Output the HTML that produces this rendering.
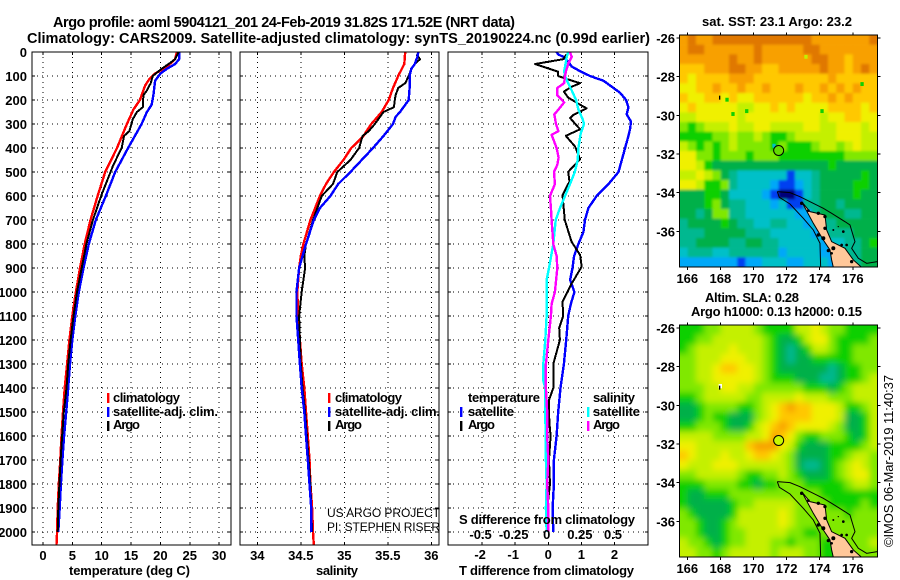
<!DOCTYPE html>
<html>
<head>
<meta charset="utf-8">
<title>Argo profile</title>
<style>
html,body{margin:0;padding:0;background:#fff;}
svg{display:block;}
text{font-family:"Liberation Sans",sans-serif;font-weight:bold;font-size:13px;fill:#000;}
.plain{font-weight:normal;}
.big{font-size:14.5px;}
.credit{font-size:12px;font-weight:normal;}
</style>
</head>
<body>
<svg id="chart" xmlns="http://www.w3.org/2000/svg" width="900" height="580" viewBox="0 0 900 580">
<defs>
<clipPath id="clip-temp"><rect x="32" y="52" width="199" height="493"/></clipPath>
<clipPath id="clip-sal"><rect x="240" y="52" width="199" height="493"/></clipPath>
<clipPath id="clip-diff"><rect x="448" y="52" width="200" height="493"/></clipPath>
<clipPath id="clip-map-sst"><rect x="679.5" y="35" width="198" height="232"/></clipPath>
<clipPath id="clip-map-sla"><rect x="679.5" y="325" width="198" height="232"/></clipPath>
<filter id="soft" x="-5%" y="-5%" width="110%" height="110%"><feGaussianBlur stdDeviation="3.2"/></filter>
<filter id="slight" x="-5%" y="-5%" width="110%" height="110%"><feGaussianBlur stdDeviation="1.3"/></filter>
</defs>
<rect x="0" y="0" width="900" height="580" fill="#fff"/>

<text class="big" x="53" y="27" textLength="462">Argo profile: aoml 5904121_201 24-Feb-2019 31.82S 171.52E (NRT data)</text>
<text class="big" x="27" y="43" textLength="623">Climatology: CARS2009. Satellite-adjusted climatology: synTS_20190224.nc (0.99d earlier)</text>

<text x="69" y="575" textLength="121">temperature (deg C)</text>
<text x="316" y="575" textLength="42">salinity</text>
<text x="459" y="575" textLength="175">T difference from climatology</text>

<text x="702" y="26" textLength="150">sat. SST: 23.1 Argo: 23.2</text>
<text x="705" y="302" textLength="94">Altim. SLA: 0.28</text>
<text x="691" y="316" textLength="171">Argo h1000: 0.13 h2000: 0.15</text>
<text class="plain" transform="translate(893,547) rotate(-90)" textLength="172">©IMOS 06-Mar-2019 11:40:37</text>

<g id="layer"></g>

<g id="overlay">
<rect x="107" y="393" width="2.4" height="10" fill="#f00"/>
<rect x="107" y="407" width="2.4" height="10" fill="#00f"/>
<rect x="107" y="421" width="2.4" height="10" fill="#000"/>
<text x="113" y="402" textLength="67">climatology</text>
<text x="113" y="416" textLength="105">satellite-adj. clim.</text>
<text x="113" y="429" textLength="27">Argo</text>

<rect x="328" y="393" width="2.4" height="10" fill="#f00"/>
<rect x="328" y="407" width="2.4" height="10" fill="#00f"/>
<rect x="328" y="421" width="2.4" height="10" fill="#000"/>
<text x="335" y="402" textLength="67">climatology</text>
<text x="335" y="416" textLength="105">satellite-adj. clim.</text>
<text x="335" y="429" textLength="27">Argo</text>
<text class="credit" x="327" y="517" textLength="113">US ARGO PROJECT</text>
<text class="credit" x="327" y="531" textLength="113">PI: STEPHEN RISER</text>

<text x="468" y="402" textLength="72">temperature</text>
<text x="468" y="416" textLength="46">satellite</text>
<text x="468" y="429" textLength="27">Argo</text>
<rect x="460" y="407" width="2.4" height="10" fill="#00f"/>
<rect x="460" y="421" width="2.4" height="10" fill="#000"/>
<text x="593" y="402" textLength="42">salinity</text>
<text x="593" y="416" textLength="47">satellite</text>
<text x="593" y="429" textLength="27">Argo</text>
<rect x="587" y="407" width="2.4" height="10" fill="#0ff"/>
<rect x="587" y="421" width="2.4" height="10" fill="#f0f"/>
<text x="459" y="524" textLength="176">S difference from climatology</text>
</g>
</svg>

<script>
// ---------- axis categories / tick labels ----------
var depthTicks = [0,100,200,300,400,500,600,700,800,900,1000,1100,1200,1300,1400,1500,1600,1700,1800,1900,2000];
var tempTicks = [0,5,10,15,20,25,30];
var salTicks = [34,34.5,35,35.5,36];
var salTickLabels = ['34','34.5','35','35.5','36'];
var tDiffTicks = [-2,-1,0,1,2];
var sDiffTicks = [-0.5,-0.25,0,0.25,0.5];
var sDiffTickLabels = ['-0.5','-0.25','0','0.25','0.5'];
var lonTicks = [166,168,170,172,174,176];
var latTicks = [-26,-28,-30,-32,-34,-36];

// ---------- temperature profiles ----------
var tempClimDepth = [0,30,50,70,90,110,140,200,240,300,400,500,600,700,800,900,1000,1100,1200,1300,1400,1500,1600,1700,1800,1900,2000,2054];
var tempClimValue = [22.8,22.5,21.6,20.5,19.1,18.2,17.4,16.5,15.4,14.3,12.6,10.6,9.3,8.1,7.1,6.3,5.6,5.0,4.5,4.1,3.7,3.4,3.15,2.95,2.7,2.5,2.4,2.3];
var tempSatDepth = [0,30,50,70,90,120,180,220,250,300,400,500,600,700,800,900,1000,1100,1200,1300,1400,1500,1600,1700,1800,1900,2000];
var tempSatValue = [23.2,23.2,22.5,21.1,20,19.1,18.8,18.5,17.7,16.8,14.5,12.3,10.7,9.0,7.8,6.9,6.1,5.5,5.0,4.6,4.3,3.95,3.6,3.3,3.05,2.85,2.6];
var tempArgoDepth = [0,30,50,70,100,130,160,180,230,250,280,330,350,400,470,550,600,700,800,900,1000,1100,1200,1300,1400,1500,1600,1700,1800,1900,2000];
var tempArgoValue = [23.1,22.5,21.4,20.2,18.7,18.35,17.7,17.1,17,16,15.3,14.7,13.8,13.4,12,10.7,9.9,8.5,7.4,6.6,5.8,5.2,4.7,4.3,4.0,3.55,3.25,3.0,2.8,2.6,2.5];

// ---------- salinity profiles ----------
var salClimDepth = [0,50,100,150,200,250,300,350,400,450,500,550,600,700,800,850,900,1000,1100,1200,1300,1400,1500,1600,1700,1800,1900,2000,2054];
var salClimValue = [35.7,35.69,35.62,35.56,35.51,35.43,35.31,35.22,35.08,34.99,34.88,34.79,34.72,34.61,34.53,34.5,34.48,34.46,34.47,34.49,34.51,34.54,34.56,34.58,34.6,34.61,34.63,34.64,34.65];
var salSatDepth = [0,20,50,70,100,150,200,250,270,300,350,400,450,500,550,600,650,700,800,900,1000,1100,1200,1300,1400,1500,1600,1700,1800,1900,2000];
var salSatValue = [35.85,35.84,35.81,35.77,35.75,35.75,35.74,35.64,35.59,35.56,35.45,35.33,35.2,35.07,34.93,34.84,34.72,34.65,34.56,34.48,34.45,34.45,34.47,34.49,34.51,34.54,34.56,34.58,34.6,34.62,34.62];
var salArgoDepth = [10,30,50,70,100,130,150,180,200,230,250,300,330,350,400,450,500,550,600,700,800,850,900,1000,1100,1200,1300,1400,1500,1600,1700,1800,1900,2000];
var salArgoValue = [35.83,35.87,35.81,35.77,35.74,35.7,35.62,35.59,35.58,35.57,35.45,35.35,35.28,35.21,35.17,35.07,34.92,34.87,34.74,34.64,34.56,34.54,34.55,34.51,34.48,34.49,34.5,34.52,34.55,34.57,34.59,34.61,34.62,34.63];

// ---------- difference profiles ----------
var dtSatDepth = [0,10,20,40,60,80,100,120,150,170,200,230,260,290,320,350,400,450,500,550,600,650,700,750,800,850,900,950,1000,1050,1100,1200,1300,1400,1500,1600,1700,1800,1900,2000];
var dtSatValue = [0.25,0.3,0.45,0.6,0.7,0.96,1.26,1.67,1.97,2.17,2.35,2.42,2.37,2.5,2.47,2.42,2.32,2.22,2.12,1.82,1.46,1.21,1.11,1.06,0.91,0.78,0.73,0.66,0.79,0.68,0.6,0.54,0.47,0.37,0.3,0.25,0.17,0.17,0.13,0.15];
var dtArgoDepth = [10,30,50,82,100,110,130,145,165,190,215,235,262,275,322,349,394,447,499,540,596,700,790,846,894,964,1040,1100,1150,1200,1250,1300,1400,1450,1540,1600,1700,1800,1900,2000];
var dtArgoValue = [0.55,0.45,-0.4,0.3,0.3,0.5,0.96,0.7,0.47,0.6,0.9,1.16,0.76,0.66,0.96,0.53,0.81,0.96,0.6,0.64,0.43,0.5,0.7,0.96,1.01,0.71,0.43,0.45,0.33,0.35,0.25,0.15,0.15,0.02,0.03,0.07,0.02,0.05,-0.03,0];
var dsSatDepth = [0,20,50,80,100,130,160,200,240,280,300,340,400,450,500,550,600,650,700,800,900,950,1050,1100,1200,1300,1370,1400,1500,1600,1700,1800,1900,2000];
var dsSatValue = [0.15,0.14,0.13,0.12,0.126,0.15,0.177,0.21,0.227,0.26,0.27,0.245,0.227,0.222,0.2,0.164,0.126,0.088,0.056,0.038,0.005,-0.013,-0.013,-0.013,-0.023,-0.038,-0.038,-0.023,-0.025,-0.018,-0.018,-0.013,-0.018,-0.013];
var dsArgoDepth = [0,20,50,80,100,130,150,180,210,240,260,300,330,345,400,440,470,500,550,600,650,700,800,850,900,1000,1050,1100,1200,1300,1400,1500,1600,1700,1800,1900,2000];
var dsArgoValue = [0.164,0.177,0.15,0.134,0.126,0.119,0.068,0.068,0.119,0.076,0.045,0.058,0.076,0.025,0.063,0.078,0.068,0.043,0.05,0.013,0.02,0.025,0.038,0.063,0.068,0.05,0.025,0.02,0,-0.018,-0.018,-0.008,-0.008,0,-0.008,0,0];

// ---------- map value grids (colour class per 0.5 degree cell) ----------
var sstGrid = [
[11,12,11,11,12,12,12,12,12,12,12,12,12,12,12,12,11,11,11,11,11,11,11,12],
[11,12,12,11,11,11,11,11,11,12,11,11,11,11,11,12,12,11,11,11,11,11,11,11],
[11,11,11,11,11,11,12,11,11,12,11,11,11,11,11,11,12,12,11,11,10,11,11,11],
[10,10,10,11,11,11,12,12,11,11,10,10,11,11,11,11,11,12,11,11,10,11,12,11],
[10,9,10,10,10,10,11,11,11,10,10,10,10,10,10,10,10,10,11,10,10,10,10,10],
[9,9,10,10,11,10,10,11,10,10,11,10,10,10,11,10,10,11,10,11,10,11,10,10],
[10,9,9,10,10,9,10,9,9,10,10,10,10,10,10,9,10,10,11,10,11,10,10,10],
[9,10,9,9,9,9,9,8,8,9,9,10,9,10,9,9,9,9,10,10,10,10,9,10],
[8,8,9,9,9,9,9,8,9,9,9,9,9,9,9,9,9,8,9,9,10,10,9,9],
[7,6,7,8,8,8,9,8,8,9,9,8,8,8,8,9,9,8,8,9,9,9,8,9],
[6,6,6,6,7,7,8,7,7,8,7,6,6,7,8,8,8,8,8,9,9,9,8,8],
[8,7,6,7,6,7,8,7,7,7,7,6,7,6,6,6,7,8,8,7,8,9,8,8],
[9,9,7,7,6,7,7,7,6,7,7,7,6,6,6,6,6,6,6,6,7,7,7,7],
[9,9,8,6,5,5,5,5,5,5,5,5,5,5,5,5,5,5,6,5,5,5,5,5],
[8,8,9,8,7,5,4,3,3,3,3,3,3,1,3,3,4,5,5,5,5,5,6,5],
[9,9,8,6,6,7,4,3,3,3,3,2,1,1,2,3,4,5,5,5,5,6,6,5],
[5,5,5,6,6,5,3,3,3,3,2,1,0,0,1,3,4,5,5,5,5,6,5,5],
[5,5,5,6,7,5,4,4,3,3,3,2,3,1,1,4,4,5,5,4,5,5,5,5],
[5,5,4,5,7,7,4,4,3,3,3,3,3,3,2,2,4,5,5,5,4,4,5,5],
[4,5,5,5,5,6,5,4,4,3,3,4,4,3,3,2,3,4,4,5,5,5,5,5],
[4,4,4,5,5,5,5,5,4,4,4,3,3,3,3,3,2,3,4,4,4,5,5,5],
[4,4,5,5,5,5,4,4,5,5,4,4,3,3,3,3,3,2,3,3,4,4,5,6],
[3,4,4,4,3,3,4,4,4,4,4,4,2,3,3,3,3,2,2,3,4,4,5,5],
[2,2,2,2,2,2,2,1,2,2,3,3,3,2,2,3,3,3,2,3,4,4,5,5]
];
var slaGrid = [
[6,6,6,7,7,8,8,8,8,7,6,6,6,6,8,8,9,8,7,7,6,6,6,6],
[6,6,7,7,8,8,8,8,8,8,7,6,5,5,6,8,9,9,7,6,6,6,6,7],
[6,7,8,8,8,8,9,8,8,8,7,6,5,4,5,6,8,8,7,6,6,7,7,7],
[7,7,8,8,8,9,9,9,8,8,7,6,5,4,5,5,6,6,6,6,6,7,7,7],
[7,7,8,8,9,10,10,9,9,8,7,6,5,5,5,5,5,5,4,5,6,6,7,7],
[7,7,8,8,9,9,9,9,9,8,7,6,6,6,5,5,5,4,4,5,6,6,7,8],
[7,7,7,8,8,9,9,8,8,7,7,7,7,7,7,6,6,6,5,6,7,8,8,8],
[6,6,7,8,8,8,8,8,7,7,8,8,8,8,9,8,8,8,7,7,7,8,8,8],
[5,5,6,7,7,7,7,6,6,7,8,9,10,11,10,10,9,9,9,8,6,6,7,8],
[5,5,6,7,6,6,5,5,5,7,8,9,10,10,10,10,9,9,9,8,5,5,6,8],
[6,6,7,7,7,6,5,5,6,8,9,10,11,10,9,9,9,9,8,7,5,5,6,8],
[8,8,8,8,7,7,7,7,8,8,9,11,10,9,7,6,6,7,7,7,6,5,6,8],
[9,9,8,8,8,8,8,8,10,11,11,11,9,8,6,5,5,5,6,6,6,6,7,8],
[10,9,8,8,8,9,8,8,9,10,10,9,8,7,5,5,5,5,6,6,7,8,8,7],
[9,8,8,8,9,9,9,8,8,8,8,8,8,7,5,4,4,5,6,7,8,9,8,7],
[7,7,8,8,8,8,8,7,6,6,7,7,8,7,6,5,5,5,6,7,8,9,9,7],
[6,6,6,7,7,7,7,6,6,5,6,6,7,7,7,6,6,6,6,6,7,8,8,7],
[6,5,5,6,6,6,7,7,7,7,7,7,7,7,7,7,7,6,6,6,6,6,6,6],
[6,5,5,5,5,5,6,7,7,8,8,8,8,8,7,7,7,7,6,6,6,6,7,6],
[7,6,5,5,5,5,6,8,8,8,8,8,9,8,7,7,7,7,7,7,6,7,7,7],
[7,7,6,5,5,6,7,8,8,8,8,8,9,8,7,7,7,7,7,7,7,7,7,7],
[7,7,6,5,5,6,7,7,8,8,8,8,8,7,7,6,6,7,7,7,7,7,7,7],
[8,7,7,6,5,6,7,7,8,8,8,7,7,6,7,7,7,6,6,7,7,7,7,8],
[8,8,7,7,6,7,8,8,8,8,8,7,8,8,8,7,7,6,6,6,7,7,7,7]
];
var colourClasses = ['#00007a','#0040f0','#00a8f8','#00c0c8','#00b890','#00b048','#10d000','#80e800','#c4f000','#f0f000','#ffc800','#f8a000','#e07800'];
var sstSpeckLon = [173.17,176.56,168.4,174.14,168.76,169.59,171.24];
var sstSpeckLat = [-26.97,-28.38,-29.19,-29.78,-29.93,-29.78,-31.57];
var sstSpeckClass = [8,6,6,6,6,6,3];
var floatLon = [171.52];
var floatLat = [-31.82];

// ---------- axis functions ----------
function yDepth(d){ return 52 + d * 0.24; }
function xTemp(t){ return 43 + t * 5.87; }
function xSal(s){ return 257.3 + (s - 34) * 87; }
function xDt(v){ return 548.3 + v * 33.1; }
function xDs(v){ return 548.3 + v * 132.4; }
function xLon(l){ return 687.3 + (l - 166) * 16.55; }
function yLat(l, top){ return top + 3 + (-26 - l) * 19.33; }

var NS = 'http://www.w3.org/2000/svg';
var layer = document.getElementById('layer');
function make(tag, parent, attrs){
  var el = document.createElementNS(NS, tag);
  for (var k in attrs) el.setAttribute(k, attrs[k]);
  parent.appendChild(el);
  return el;
}
function drawLine(parent, x1, y1, x2, y2, dash, name){
  var el = make('line', parent, {x1:x1, y1:y1, x2:x2, y2:y2, stroke:'#000', 'stroke-width':1, 'shape-rendering':'crispEdges'});
  if (dash) el.setAttribute('stroke-dasharray', dash);
  
  
  return el;
}
function drawLabel(parent, x, y, str, anchor, name){
  var el = make('text', parent, {x:x, y:y, 'text-anchor':anchor});
  el.textContent = str;
  
  
  return el;
}
function drawProfile(parent, depths, values, xFn, colour, width, name){
  var pts = [];
  for (var i = 0; i < depths.length; i++) pts.push(xFn(values[i]).toFixed(1) + ',' + yDepth(depths[i]).toFixed(1));
  var el = make('polyline', parent, {points:pts.join(' '), fill:'none', stroke:colour, 'stroke-width':width, 'stroke-linejoin':'round', 'shape-rendering':'crispEdges'});
  
  
  return el;
}
function drawPanel(key, left, right, clip, xTicks, xFn){
  var g = make('g', layer, {});
  
  
  depthTicks.forEach(function(d){
    drawLine(g, left, yDepth(d), right, yDepth(d), '1 4', key + '-grid-depth');
    drawLine(g, left, yDepth(d), left + 3, yDepth(d), null, key + '-tick-left');
    drawLine(g, right - 3, yDepth(d), right, yDepth(d), null, key + '-tick-right');
  });
  xTicks.forEach(function(t){
    drawLine(g, xFn(t), 52, xFn(t), 545, '1 4', key + '-grid-x');
    drawLine(g, xFn(t), 542, xFn(t), 545, null, key + '-tick-bottom');
    drawLine(g, xFn(t), 52, xFn(t), 55, null, key + '-tick-top');
  });
  var inner = make('g', g, {'clip-path':'url(#' + clip + ')'});
  
  
  var frame = make('rect', g, {x:left, y:52, width:right-left, height:493, fill:'none', stroke:'#000', 'stroke-width':1, 'shape-rendering':'crispEdges'});
  
  
  return inner;
}

// ---------- temperature panel ----------
var p1 = drawPanel('temperature', 32, 231, 'clip-temp', tempTicks, xTemp);
drawProfile(p1, tempClimDepth, tempClimValue, xTemp, '#f00', 2.4, 'temperature-climatology-line');
drawProfile(p1, tempSatDepth, tempSatValue, xTemp, '#00f', 2.4, 'temperature-satellite-line');
drawProfile(p1, tempArgoDepth, tempArgoValue, xTemp, '#000', 2, 'temperature-argo-line');
depthTicks.forEach(function(d){ drawLabel(layer, 27, yDepth(d) + 5, String(d), 'end', 'depth-tick-label'); });
tempTicks.forEach(function(t){ drawLabel(layer, xTemp(t), 560, String(t), 'middle', 'temperature-tick-label'); });

// ---------- salinity panel ----------
var p2 = drawPanel('salinity', 240, 439, 'clip-sal', salTicks, xSal);
drawProfile(p2, salClimDepth, salClimValue, xSal, '#f00', 2.4, 'salinity-climatology-line');
drawProfile(p2, salArgoDepth, salArgoValue, xSal, '#000', 2, 'salinity-argo-line');
drawProfile(p2, salSatDepth, salSatValue, xSal, '#00f', 2.4, 'salinity-satellite-line');
salTicks.forEach(function(t, i){ drawLabel(layer, xSal(t), 560, salTickLabels[i], 'middle', 'salinity-tick-label'); });

// ---------- difference panel ----------
var p3 = drawPanel('difference', 448, 648, 'clip-diff', tDiffTicks, xDt);
drawProfile(p3, dtSatDepth, dtSatValue, xDt, '#00f', 2.4, 'difference-t-satellite-line');
drawProfile(p3, dtArgoDepth, dtArgoValue, xDt, '#000', 2, 'difference-t-argo-line');
drawProfile(p3, dsSatDepth, dsSatValue, xDs, '#0ff', 2.4, 'difference-s-satellite-line');
drawProfile(p3, dsArgoDepth, dsArgoValue, xDs, '#f0f', 2.4, 'difference-s-argo-line');
tDiffTicks.forEach(function(t){ drawLabel(layer, xDt(t) - (t < 0 ? 2 : 0), 559, String(t), 'middle', 't-difference-tick-label'); });
sDiffTicks.forEach(function(t, i){ drawLabel(layer, xDs(t) - 1.5, 539, sDiffTickLabels[i], 'middle', 's-difference-tick-label'); });

// ---------- maps ----------
var landOutline = '425,605 450,635 495,645 500,690 515,725 555,745 580,780 605,802 520,802 515,780 510,750 490,720 460,670';
var shelfOutline = '352,575 358,592 390,612 430,655 460,690 480,730 482,802';
var eastOutline = '352,575 390,578 420,590 450,605 490,625 515,640 555,665 570,675 585,725 575,745 595,775 620,790 652,785';
var landSpecks = [[425,610,5],[445,632,4],[475,640,5],[495,650,5],[495,685,5],[475,705,5],[490,715,6],[520,745,6],[545,735,4],[560,735,4],[575,785,5],[550,695,4],[520,690,3],[535,680,2],[505,752,5],[515,760,4]];

function drawMap(key, grid, top, clip, blurId, floatFill){
  var g = make('g', layer, {});
  
  
  var clipped = make('g', g, {'clip-path':'url(#' + clip + ')'});
  var cells = make('g', clipped, {'filter':'url(#' + blurId + ')'});
  var nRows = grid.length, nCols = grid[0].length;
  var cw = 198 / nCols, ch = 232 / nRows, pad = 12;
  for (var r = 0; r < nRows; r++) {
    for (var c = 0; c < nCols; c++) {
      var x = 679.5 + c * cw, y = top + r * ch, w = cw + 0.3, h = ch + 0.3;
      if (c === 0) { x -= pad; w += pad; }
      if (c === nCols - 1) { w += pad; }
      if (r === 0) { y -= pad; h += pad; }
      if (r === nRows - 1) { h += pad; }
      var cell = make('rect', cells, {x:x, y:y, width:w, height:h, fill:colourClasses[grid[r][c]]});
      
      
    }
  }
  if (key === 'sst') {
    sstSpeckLon.forEach(function(l, i){
      var sp = make('rect', clipped, {x:xLon(l) - 1.65, y:yLat(sstSpeckLat[i], top) - 1.9, width:3.3, height:3.9, fill:colourClasses[sstSpeckClass[i]]});
      
      
    });
  }
  var geo = make('g', clipped, {transform:'translate(660,' + (top - 35) + ') scale(0.3333)'});
  
  
  var land = make('polygon', geo, {points:landOutline, fill:'#ffc89a', stroke:'#000', 'stroke-width':3});
  
  
  var shelf = make('polyline', geo, {points:shelfOutline, fill:'none', stroke:'#000', 'stroke-width':3});
  
  
  var east = make('polyline', geo, {points:eastOutline, fill:'none', stroke:'#000', 'stroke-width':3});
  
  
  landSpecks.forEach(function(s){
    var sp = make('circle', geo, {cx:s[0], cy:s[1], r:s[2], fill:'#000'});
    
    
  });
  if (key === 'sla') {
    var patch = make('rect', geo, {x:176, y:282, width:10, height:13, fill:'#fff'});
    
    
  }
  var islet = make('rect', geo, {x:177, y:287, width:4, height:12, fill:'#000'});
  
  
  var dot = make('circle', clipped, {cx:xLon(floatLon[0]), cy:yLat(floatLat[0], top), r:5, fill:floatFill, stroke:'#000', 'stroke-width':1});
  
  
  lonTicks.forEach(function(l){
    drawLine(g, xLon(l), top - 2.5, xLon(l), top, null, key + '-lon-tick-top');
    drawLine(g, xLon(l), top + 232, xLon(l), top + 235, null, key + '-lon-tick-bottom');
    drawLabel(g, xLon(l), top + 248, String(l), 'middle', key + '-lon-label');
  });
  latTicks.forEach(function(l){
    drawLine(g, 676.5, yLat(l, top), 679.5, yLat(l, top), null, key + '-lat-tick-left');
    drawLine(g, 877.5, yLat(l, top), 880.5, yLat(l, top), null, key + '-lat-tick-right');
    drawLabel(g, 675, yLat(l, top) + 5, String(l), 'end', key + '-lat-label');
  });
  var frame = make('rect', g, {x:679.5, y:top, width:198, height:232, fill:'none', stroke:'#000', 'stroke-width':1, 'shape-rendering':'crispEdges'});
  
  
}
drawMap('sst', sstGrid, 35, 'clip-map-sst', 'slight', '#64dc00');
drawMap('sla', slaGrid, 325, 'clip-map-sla', 'soft', '#c8f800');
</script>
</body>
</html>
